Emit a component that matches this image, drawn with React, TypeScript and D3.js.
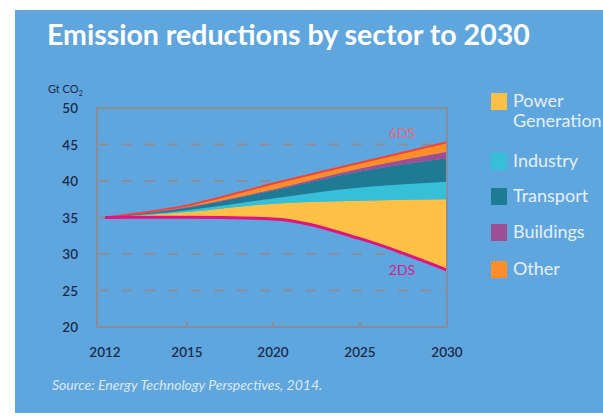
import React from "react";
import * as d3 from "d3";

const years = [2012, 2015, 2020, 2025, 2030];
const tickYears = [2012, 2015, 2020, 2025, 2030];
const yTicks = [20, 25, 30, 35, 40, 45, 50];
const gridValues = [25, 30, 35, 40, 45];
const twoDS = [35.0, 35.05, 34.8, 32.1, 27.8];
const power = [0, 0.7, 2.1, 5.2, 9.7];
const industry = [0, 0.25, 0.7, 1.8, 2.4];
const transport = [0, 0.35, 1.1, 2.2, 3.2];
const buildings = [0, 0.1, 0.15, 0.4, 0.9];
const other = [0, 0.2, 0.8, 0.8, 1.3];
const sectorKeys = ["power", "industry", "transport", "buildings", "other"];
const sectorLabels = [["Power", "Generation"], ["Industry"], ["Transport"], ["Buildings"], ["Other"]];
const sectorColors = ["#ffc145", "#35c0d8", "#1f7a93", "#9e4f93", "#ff8d2a"];

export default function App() {
  const W = 603, H = 417;
  const x = d3.scaleLinear().domain([2012, 2015, 2020, 2025, 2030]).range([105, 187, 273, 360, 447]);
  const y = d3.scaleLinear().domain([20, 50]).range([327, 108]);

  const rows = years.map((yr, i) => ({
    year: yr,
    base: twoDS[i],
    power: power[i],
    industry: industry[i],
    transport: transport[i],
    buildings: buildings[i],
    other: other[i],
  }));
  const stack = d3.stack<any>().keys(["base", ...sectorKeys]);
  const series = stack(rows);
  const area = d3
    .area<any>()
    .x((d) => x(d.data.year))
    .y0((d) => y(d[0]))
    .y1((d) => y(d[1]))
    .curve(d3.curveMonotoneX);
  const top = series[series.length - 1];
  const line = d3
    .line<any>()
    .x((d) => x(d.data.year))
    .y((d) => y(d[1]))
    .curve(d3.curveMonotoneX);
  const baseLine = series[0];

  const legendY = [101, 161, 196, 232, 269];

  return (
    <svg width={W} height={H} style={{ position: "absolute", left: 0, top: 0 }}>
      <rect x={0} y={0} width={W} height={H} fill="#ffffff" />
      <rect x={15} y={10} width={W - 15} height={403} fill="#5fa6de" />
      <text x={47} y={45} fill="#ffffff" fontFamily="Lato" fontWeight="bold" fontSize={28.5}>
        Emission reductions by sector to 2030
      </text>

      {gridValues.map((v) => (
        <line key={v} x1={99} x2={447} y1={y(v)} y2={y(v)} stroke="#8c8d96" strokeWidth={2} strokeDasharray="10,13" />
      ))}

      {series.slice(1).map((s, i) => (
        <path key={s.key} d={area(s) || ""} fill={sectorColors[i]} />
      ))}
      <path d={line(top) || ""} fill="none" stroke="#f0443a" strokeWidth={2} />
      <path d={line(baseLine) || ""} fill="none" stroke="#e0147f" strokeWidth={3} />

      <rect x={97} y={108} width={350} height={219} fill="none" stroke="#8a8d98" strokeWidth={2} />
      {tickYears.slice(1, -1).map((t) => (
        <line key={t} x1={x(t)} x2={x(t)} y1={327} y2={322} stroke="#8a8d98" strokeWidth={2} />
      ))}

      {yTicks.map((v) => (
        <text key={v} x={78} y={y(v) + 5} textAnchor="end" fill="#1b2a47" fontFamily="Lato" fontWeight="600" fontSize={13.5}>
          {v}
        </text>
      ))}
      <text x={48} y={93} fill="#1b2a47" fontFamily="Lato" fontSize={11}>
        Gt CO<tspan fontSize={7} dy={3}>2</tspan>
      </text>
      {tickYears.map((t) => (
        <text key={t} x={x(t)} y={357} textAnchor="middle" fill="#1b2a47" fontFamily="Lato" fontWeight="600" fontSize={13.5}>
          {t}
        </text>
      ))}

      <text x={402} y={138} textAnchor="middle" fill="#e26a7c" fontFamily="Lato" fontSize={14}>6DS</text>
      <text x={402} y={275} textAnchor="middle" fill="#d81d8c" fontFamily="Lato" fontSize={14}>2DS</text>

      {sectorLabels.map((lab, i) =>
        <g key={i}>
          <rect x={491} y={legendY[i] - 8} width={16} height={17} fill={sectorColors[i]} />
          {lab.map((l, j) => (
            <text key={j} x={513} y={legendY[i] + 6 + j * 20} fill="#e6f0fa" fontFamily="Lato" fontSize={18}>
              {l}
            </text>
          ))}
        </g>
      )}

      <text x={52} y={390} fill="#dce9f6" fontFamily="Lato" fontStyle="italic" fontSize={14}>
        Source: Energy Technology Perspectives, 2014.
      </text>
    </svg>
  );
}
